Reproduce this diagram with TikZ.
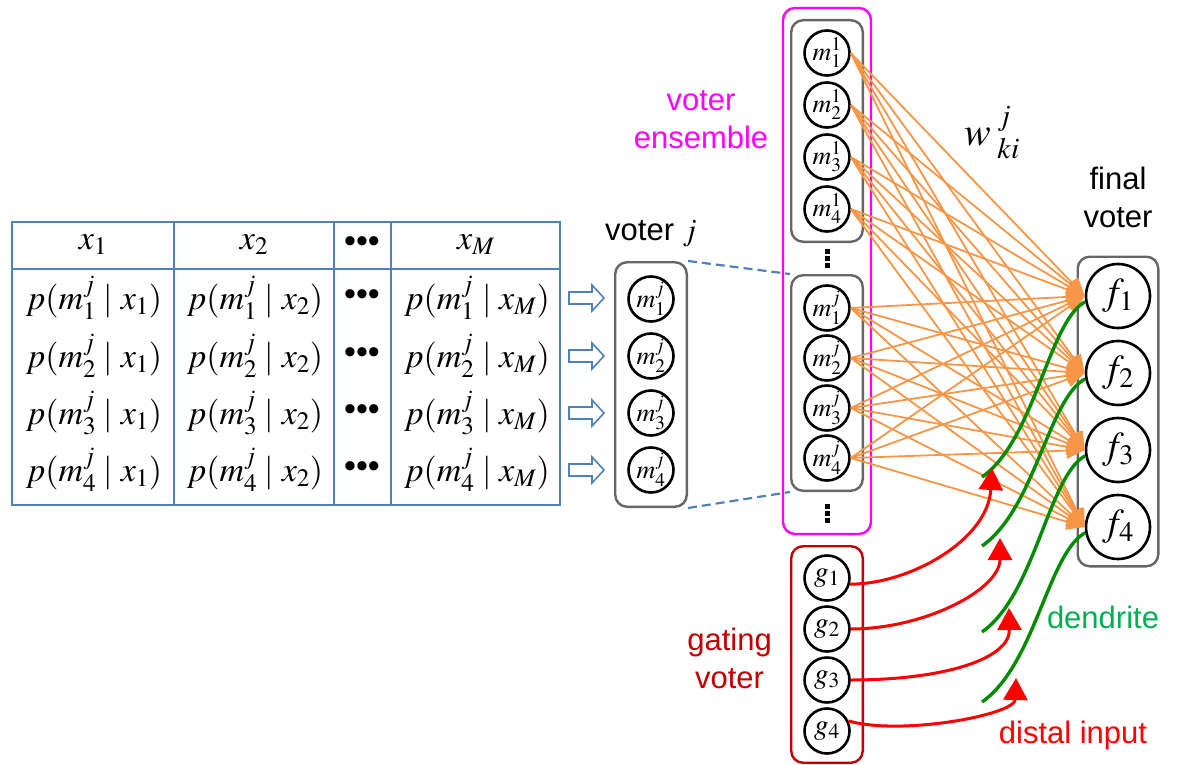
\documentclass[tikz,border=0pt]{standalone}
\usepackage{mathptmx}
\usepackage[no-math]{fontspec}
\setmainfont{Liberation Sans}
\usetikzlibrary{arrows.meta, positioning, fit}

\definecolor{tblue}{HTML}{4F81BD}
\definecolor{wtorange}{HTML}{F79646}
\definecolor{dendgreen}{HTML}{008C00}
\definecolor{dendtext}{HTML}{00B050}
\definecolor{gatered}{HTML}{C00000}
\definecolor{boxgray}{HTML}{666666}
\definecolor{ensmagenta}{HTML}{FF00FF}

\begin{document}
\begin{tikzpicture}[
  x=1pt, y=-1pt,
  every node/.style={inner sep=0pt},
  cell/.style={font=\fontsize{34}{40}\selectfont},
  neuron/.style={circle, draw, line width=2.6pt, minimum size=45pt,
    font=\fontsize{26}{28}\selectfont},
  fneuron/.style={neuron, minimum size=64pt, font=\fontsize{38}{40}\selectfont},
  gneuron/.style={neuron, font=\fontsize{29}{30}\selectfont},
  voterbox/.style={draw=boxgray, line width=2.4pt, rounded corners=12pt,
    inner xsep=12pt, inner ysep=9pt},
  lbl/.style={font=\fontsize{31}{38}\selectfont, align=center},
  tablegrid/.style={draw=tblue, line width=1.5pt},
  blockarrow/.style={draw=tblue, line width=1.6pt, fill=white},
  link/.style={draw=tblue, line width=2.2pt, dash pattern=on 9pt off 5pt},
  weight/.style={draw=wtorange, line width=1.8pt, -{Triangle[length=18pt, width=16pt]}},
  dendrite/.style={draw=dendgreen, line width=3.4pt},
  distal/.style={draw=red, line width=3pt, -{Triangle[length=22pt, width=24pt]}},
]
  \useasboundingbox (0,0) rectangle (1180,765);

  % Input table
  \draw[tablegrid] (12,222) rectangle (560,505);
  \draw[tablegrid] (12,269) -- (560,269);
  \foreach \x in {174,334,391}
    \draw[tablegrid] (\x,222) -- (\x,505);
  \node[cell] (x1) at (93,245) {$x_1$};
  \node[cell] (x2) at (254,245) {$x_2$};
  \node[cell] (xd) at (362,245) {\textbullet\textbullet\textbullet};
  \node[cell] (xM) at (476,245) {$x_M$};
  \foreach \i/\y in {1/298,2/356,3/413,4/470}{
    \node[cell] (p\i1) at (94,\y) {$p(m_\i^j\mid x_1)$};
    \node[cell] (p\i2) at (255,\y) {$p(m_\i^j\mid x_2)$};
    \node[cell] (p\i3) at (362,\y) {\textbullet\textbullet\textbullet};
    \node[cell] (p\i4) at (477,\y) {$p(m_\i^j\mid x_M)$};
    \coordinate (ar\i) at (569,\y);
    \draw[blockarrow] (ar\i) ++(0,-6) -- ++(23,0) -- ++(0,-7) -- ++(12,13)
      -- ++(-12,13) -- ++(0,-7) -- ++(-23,0) -- cycle;
  }

  % Voter j
  \foreach \i/\y in {1/299,2/356,3/413,4/470}
    \node[neuron] (v\i) at (651,\y) {$m_{\i}^{j}$};
  \node[voterbox, inner ysep=13pt, fit=(v1)(v4)] (vbox) {};
  \node[lbl, above=14pt of vbox] (vlabel) {voter $j$};

  % Voter ensemble
  \foreach \i/\y in {1/53,2/105,3/157,4/209}
    \node[neuron] (a\i) at (827,\y) {$m_{\i}^{1}$};
  \foreach \i/\y in {1/308,2/358,3/408,4/458}
    \node[neuron] (b\i) at (827,\y) {$m_{\i}^{j}$};
  \node[voterbox, fit=(a1)(a4)] (abox) {};
  \node[voterbox, fit=(b1)(b4)] (bbox) {};
  \foreach \y in {258,513}
    \foreach \d in {-7,0,7}
      \fill (824.5,\y+\d-2.5) rectangle ++(5,5);
  \coordinate (ensbottom) at (827,523);
  \node[draw=ensmagenta, line width=2.4pt, rounded corners=12pt, inner xsep=7pt,
    inner ysep=11pt, fit=(abox)(bbox)(ensbottom)] (ens) {};
  \node[lbl, text=ensmagenta] (enslabel) at (701,120) {voter\\ensemble};

  \draw[link] (vbox.north east) -- (bbox.north west);
  \draw[link] (vbox.south east) -- (bbox.south west);

  % Final voter
  \foreach \i/\y in {1/296,2/373,3/450,4/527}
    \node[fneuron] (f\i) at (1118,\y) {$f_{\i}$};
  \node[voterbox, inner xsep=7pt, inner ysep=6pt, fit=(f1)(f4)] (fbox) {};
  \node[lbl, above=27pt of fbox] (flabel) {final\\voter};

  % Gating voter
  \foreach \i/\y in {1/578,2/629,3/680,4/731}
    \node[gneuron] (g\i) at (827,\y) {$g_{\i}$};
  \node[voterbox, draw=gatered, inner ysep=8pt, fit=(g1)(g4)] (gbox) {};
  \node[lbl, text=gatered, left=18pt of gbox, yshift=-4pt] (glabel) {gating\\voter};

  % Weights
  \foreach \s in {a1,a2,a3,a4,b1,b2,b3,b4}
    \foreach \t in {1,2,3,4}
      \draw[weight] (\s.east) -- (f\t.west);
  \node[font=\fontsize{40}{42}\selectfont] (wlabel) at (992,133) {$w_{\;ki}^{\;j}$};

  % Dendrites
  \foreach \i/\y in {1/477,2/546,3/632,4/702}{
    \coordinate (d\i) at (982,\y);
    \draw[dendrite] (f\i.190) .. controls +(-37,20) and +(53,-37) .. (d\i);
  }
  \node[lbl, text=dendtext] (dlabel) at (1103,617) {dendrite};

  % Distal input
  \coordinate (e1) at (992,468);
  \coordinate (e2) at (1000,538);
  \coordinate (e3) at (1009,608);
  \coordinate (e4) at (1016,678);
  \draw[distal] (g1.-15) .. controls +(60,0) and +(-4,72) .. (e1);
  \draw[distal] (g2.east) .. controls +(73,0) and +(0,52) .. (e2);
  \draw[distal] (g3.east) .. controls +(90,0) and +(1,52) .. (e3);
  \draw[distal] (g4.25) .. controls +(52,15) and +(-1,37) .. (e4);
  \node[lbl, text=red] (dilabel) at (1073,735) {distal input};

\end{tikzpicture}
\end{document}
